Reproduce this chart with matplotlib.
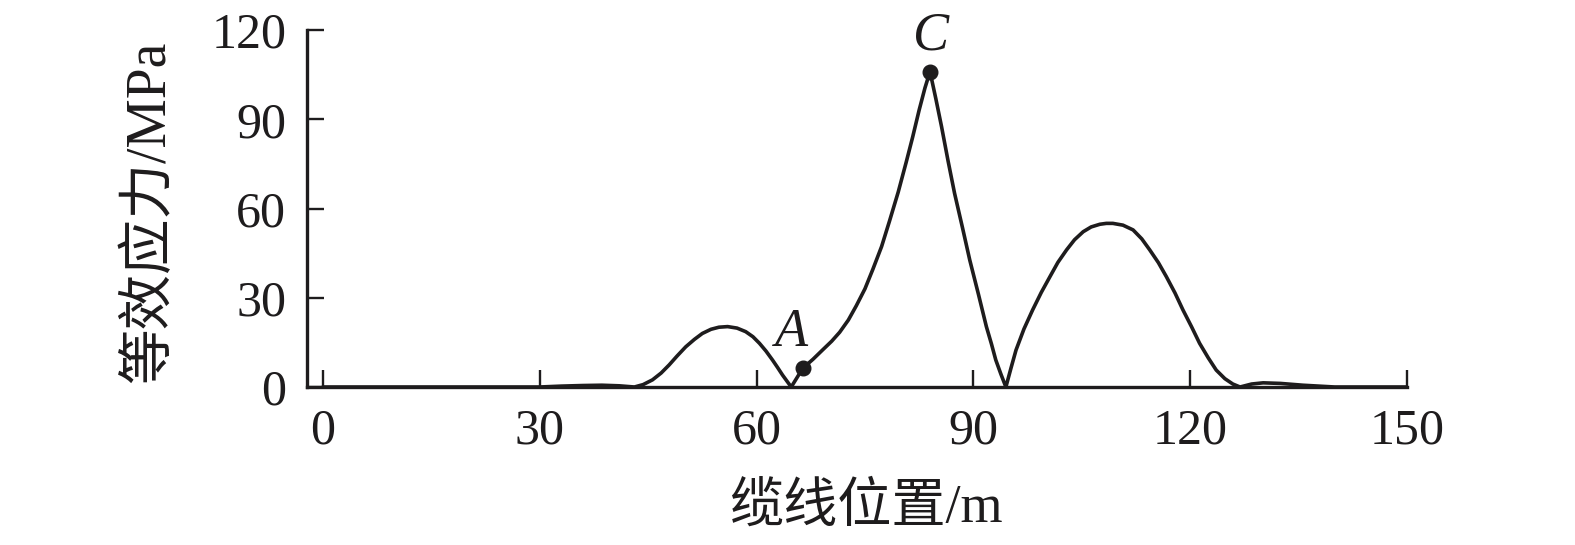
import matplotlib
matplotlib.use("Agg")
import matplotlib.pyplot as plt

# ---- data ----
position_m = [0, 10, 20, 30, 33, 36, 38.6, 41, 43.1, 44.3, 45.6, 46.8, 47.9, 49.0,
              50.2, 51.4, 52.5, 53.7, 54.8, 56.0, 57.3, 58.5, 59.5, 60.4, 61.3,
              62.2, 62.9, 63.6, 64.2, 64.8,
              66.4, 67.8, 69.2, 70.4, 71.5, 72.7, 73.8, 75.0, 76.1, 77.3, 78.4,
              79.6, 80.7, 81.6, 82.5, 83.3, 84.0,
              84.8, 85.6, 86.5, 87.4, 88.5, 89.5, 90.7, 91.8, 92.5, 93.1, 93.8, 94.5,
              95.2, 95.9, 97.0, 98.2, 99.4, 100.6, 101.7, 102.9, 104.0, 105.2,
              106.3, 107.5, 108.4, 109.3, 110.7, 112.1, 113.3, 114.4, 115.6,
              116.7, 117.9, 119.0, 120.2, 121.3, 122.5, 123.6, 124.8, 125.9, 126.9,
              128.5, 130.1, 132.5, 135.6, 140, 150]
stress_mpa = [0, 0, 0, 0, 0.3, 0.5, 0.6, 0.4, 0, 0.8, 2.4, 4.7, 7.4, 10.4,
              13.5, 16.0, 18.0, 19.4, 20.1, 20.3, 19.8, 18.6, 16.9, 14.7, 12.1,
              9.1, 6.6, 4.0, 2.0, 0,
              6.3, 9.3, 12.6, 15.4, 18.4, 22.5, 27.3, 33.0, 39.6, 47.2, 55.8,
              65.5, 75.5, 84.0, 93.1, 100.5, 106.0,
              97.0, 87.5, 76.0, 65.1, 53.5, 42.7, 31.2, 20.3, 14.5, 9.1, 4.4, 0,
              6.3, 12.4, 19.5, 25.9, 31.8, 37.1, 41.9, 46.1, 49.5, 52.2,
              53.8, 54.7, 55.0, 55.0, 54.4, 52.8, 49.8, 46.1, 41.8,
              37.1, 31.6, 25.9, 20.2, 14.7, 9.8, 5.7, 2.8, 1.0, 0,
              1.0, 1.4, 1.2, 0.6, 0, 0]

point_labels = ["A", "C"]
point_x = [66.4, 84.0]
point_y = [6.3, 106.0]

x_ticks = [0, 30, 60, 90, 120, 150]
y_ticks = [0, 30, 60, 90, 120]

x_label = "缆线位置/m"
y_label = "等效应力/MPa"

# ---- style ----
serif = ["Liberation Serif", "Noto Sans CJK SC", "DejaVu Sans"]
plt.rcParams["font.family"] = serif
ink = "#1e1c1d"

fig = plt.figure(figsize=(15.75, 5.45), dpi=100)
ax = fig.add_axes([307 / 1575, 1 - 387 / 545, 1100 / 1575, 357 / 545])

ax.plot(position_m, stress_mpa, color=ink, lw=2.6, solid_joinstyle="round",
        solid_capstyle="round", zorder=3)
ax.plot(point_x, point_y, "o", color=ink, ms=10.5, zorder=4)

label_offsets = {"A": (-1.6, 11.9), "C": (0.2, 12.0)}
for lab, px, py in zip(point_labels, point_x, point_y):
    dx, dy = label_offsets[lab]
    ax.text(px + dx, py + dy, lab, fontsize=39, style="italic", color=ink,
            ha="center", va="center", family=serif)

ax.set_xlim(-2.2, 150)
ax.set_ylim(0, 120)
ax.set_xticks(x_ticks)
ax.set_yticks(y_ticks)
ax.set_xticklabels([str(v) for v in x_ticks])
ax.set_yticklabels([str(v) for v in y_ticks])

for side in ("top", "right"):
    ax.spines[side].set_visible(False)
for side in ("left", "bottom"):
    ax.spines[side].set_linewidth(2.4)
    ax.spines[side].set_color(ink)

ax.tick_params(direction="in", length=12.5, width=1.7, colors=ink,
               labelsize=36, pad=15)

ax.set_xlabel(x_label, fontsize=39, color=ink, family=serif)
ax.xaxis.label.set_verticalalignment("center")
ax.xaxis.set_label_coords(0.508, -0.339)

ax.set_ylabel(y_label, fontsize=40, color=ink, family=serif)
ax.yaxis.label.set_verticalalignment("center")
ax.yaxis.set_label_coords(-0.143, 0.49)

fig.savefig("out.png", dpi=100)
